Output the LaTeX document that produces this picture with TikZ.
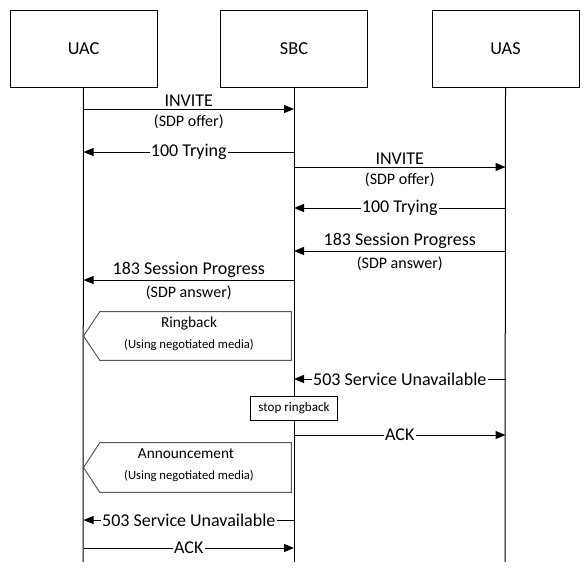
\documentclass[tikz,border=0pt]{standalone}
\usepackage{fontspec}
\setmainfont{Carlito}
\usetikzlibrary{arrows.meta,positioning,calc}

\begin{document}
\begin{tikzpicture}[x=0.75pt,y=-0.75pt,
  entity/.style={draw,line width=0.75pt,minimum width=147*0.75pt,minimum height=77*0.75pt,
    font=\fontsize{13.7}{16}\selectfont},
  msg/.style={-{Triangle[length=7.5pt,width=6pt]},line width=0.75pt},
  onmsg/.style={fill=white,inner sep=1pt,font=\fontsize{13.5}{16}\selectfont},
  upmsg/.style={above,inner sep=1.5pt,font=\fontsize{13.5}{16}\selectfont},
  downmsg/.style={below,inner sep=4pt,font=\fontsize{12}{14}\selectfont},
  media/.style={draw=black!65,line width=0.75pt},
  mediatxt/.style={font=\fontsize{9.5}{11}\selectfont}
]
  \useasboundingbox (0,0) rectangle (588,578);
  % Entities
  \node[entity] (uac) at (83.5,48.5) {UAC};
  \node[entity] (sbc) at (294,48.5) {SBC};
  \node[entity] (uas) at (505.5,48.5) {UAS};
  % Lifelines
  \coordinate (uacend) at (83,562);
  \coordinate (sbcend) at (294,562);
  \coordinate (uasend) at (505,562);
  \draw[line width=0.75pt] (uac.south) -- (uacend);
  \draw[line width=0.75pt] (sbc.south) -- (sbcend);
  \draw[line width=0.75pt] (uas.south) -- (uasend);
  % INVITE to SBC
  \draw[msg] (uac.south |- 0,109) -- node[upmsg] {INVITE} node[downmsg] {(SDP offer)} (sbc.south |- 0,109);
  \draw[msg] (sbc.south |- 0,152) -- node[onmsg] {100 Trying} (uac.south |- 0,152);
  % INVITE to UAS
  \draw[msg] (sbc.south |- 0,167) -- node[upmsg] {INVITE} node[downmsg] {(SDP offer)} (uas.south |- 0,167);
  \draw[msg] (uas.south |- 0,208) -- node[onmsg] {100 Trying} (sbc.south |- 0,208);
  \draw[msg] (uas.south |- 0,251) -- node[upmsg] {183 Session Progress} node[downmsg] {(SDP answer)} (sbc.south |- 0,251);
  \draw[msg] (sbc.south |- 0,280) -- node[upmsg] {183 Session Progress} node[downmsg] {(SDP answer)} (uac.south |- 0,280);
  % Ringback
  \node[minimum width=191*0.75pt,minimum height=48*0.75pt,inner sep=0pt] (ring) at (195.5,336) {};
  \draw[media] (ring.north west) -- (ring.north east) -- (ring.south east) -- (ring.south west)
    -- (uac.south |- ring.west) -- cycle;
  \node[font=\fontsize{11.5}{13}\selectfont] (ringtxt) at (189,323) {Ringback};
  \node[mediatxt] (ringsub) at (189,345) {(Using negotiated media)};
  % Failure from UAS
  \draw[msg] (uas.south |- 0,379) -- node[onmsg] {503 Service Unavailable} (sbc.south |- 0,379);
  \node[draw,fill=white,line width=0.75pt,minimum width=87*0.75pt,minimum height=24*0.75pt,
    inner sep=1pt,font=\fontsize{9.8}{11}\selectfont] (stop) at (294,408) {stop ringback};
  \draw[msg] (sbc.south |- 0,435) -- node[onmsg] {ACK} (uas.south |- 0,435);
  % Announcement
  \node[minimum width=191*0.75pt,minimum height=49*0.75pt,inner sep=0pt] (ann) at (195.5,467.5) {};
  \draw[media] (ann.north west) -- (ann.north east) -- (ann.south east) -- (ann.south west)
    -- (uac.south |- ann.west) -- cycle;
  \node[font=\fontsize{11.5}{13}\selectfont] (anntxt) at (186,454) {Announcement};
  \node[mediatxt] (annsub) at (189,476) {(Using negotiated media)};
  % Failure to UAC
  \draw[msg] (sbc.south |- 0,520) -- node[onmsg] {503 Service Unavailable} (uac.south |- 0,520);
  \draw[msg] (uac.south |- 0,548) -- node[onmsg] {ACK} (sbc.south |- 0,548);
\end{tikzpicture}
\end{document}
